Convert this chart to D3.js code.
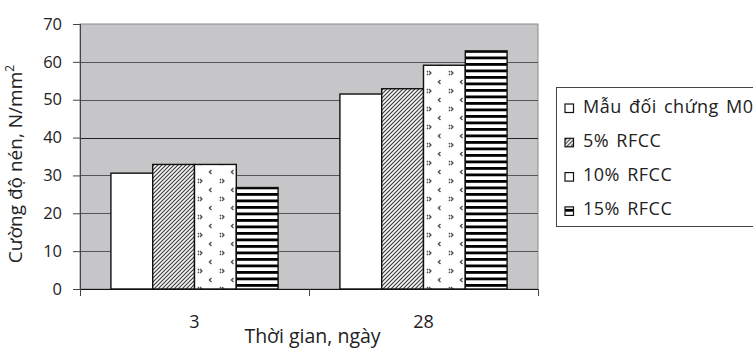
<!DOCTYPE html>
<html>
<head>
<meta charset="utf-8">
<script src="https://cdn.jsdelivr.net/npm/d3@7"></script>
<style>
  html, body { margin: 0; padding: 0; background: #fff; overflow: hidden; }
  svg { display: block; font-family: "Open Sans", "Noto Sans", sans-serif; }
</style>
</head>
<body>
<svg id="chart" width="753" height="349"></svg>
<script>
// Compressive strength by curing age and RFCC replacement level
const categories = ["3", "28"];
const seriesNames = ["Mẫu đối chứng M0", "5% RFCC", "10% RFCC", "15% RFCC"];
const seriesPatterns = ["solid", "diag", "chevron", "hstripe"];
const valuesM0 = [30.6, 51.5];
const values5 = [32.9, 52.9];
const values10 = [32.9, 59.1];
const values15 = [26.8, 62.9];
const yTicks = [0, 10, 20, 30, 40, 50, 60, 70];

const seriesValues = [valuesM0, values5, values10, values15];

const svg = d3.select("#chart");
const margin = { left: 80, top: 24 };
const plotW = 538 - margin.left;
const plotH = 289 - margin.top;

// Fill patterns
const defs = svg.append("defs");
const pDiag = defs.append("pattern").attr("id", "p-diag")
  .attr("patternUnits", "userSpaceOnUse").attr("width", 4).attr("height", 4);
pDiag.append("rect").attr("width", 4).attr("height", 4).attr("fill", "#fff");
pDiag.append("path").attr("d", "M-1,1 L1,-1 M0,4 L4,0 M3,5 L5,3")
  .attr("stroke", "#333").attr("stroke-width", 1.15);

const pChev = defs.append("pattern").attr("id", "p-chevron")
  .attr("patternUnits", "userSpaceOnUse").attr("width", 22).attr("height", 18);
pChev.append("rect").attr("width", 22).attr("height", 18).attr("fill", "#fff");
pChev.append("path")
  .attr("d", "M12.5,2 L10.5,4 L12.5,6 M1,11 L3,13 L1,15 M21,11 L23,13 L21,15")
  .attr("fill", "none").attr("stroke", "#444").attr("stroke-width", 1.3);

const pStripe = defs.append("pattern").attr("id", "p-hstripe")
  .attr("patternUnits", "userSpaceOnUse").attr("width", 6).attr("height", 6.5);
pStripe.append("rect").attr("width", 6).attr("height", 6.5).attr("fill", "#fff");
pStripe.append("rect").attr("y", 0).attr("width", 6).attr("height", 2.8).attr("fill", "#000");

const fillFor = p => p === "solid" ? "#fff" : `url(#p-${p})`;

const g = svg.append("g").attr("transform", `translate(${margin.left},${margin.top})`);

const y = d3.scaleLinear().domain([0, 70]).range([plotH, 0]);
const x0 = d3.scaleBand().domain(categories).range([0, plotW]).paddingInner(0.27).paddingOuter(0.135);
const x1 = d3.scaleBand().domain(seriesNames).range([0, x0.bandwidth()]);

// Plot area
g.append("rect").attr("width", plotW).attr("height", plotH)
  .attr("fill", "#c6c6c8").attr("stroke", "#8a8a8a").attr("stroke-width", 1);

// Grid lines
g.append("g").selectAll("line").data(yTicks.filter(t => t > 0 && t < 70)).join("line")
  .attr("x1", 0).attr("x2", plotW)
  .attr("y1", d => Math.round(y(d)) + 0.5).attr("y2", d => Math.round(y(d)) + 0.5)
  .attr("stroke", d => d === 40 ? "#222" : "#555").attr("stroke-width", 1);

// Y axis
const yAxis = g.append("g")
  .call(d3.axisLeft(y).tickValues(yTicks).tickSize(7).tickPadding(11));
yAxis.select(".domain").attr("stroke", "#444").attr("d", `M0.5,${plotH + 6}V0`);
yAxis.selectAll(".tick line").attr("stroke", "#444");
yAxis.selectAll(".tick text").attr("font-size", 16.5).attr("fill", "#222")
  .attr("font-family", "Open Sans, sans-serif");

// Bars
const groups = g.append("g").selectAll("g").data(categories).join("g")
  .attr("transform", d => `translate(${x0(d)},0)`);
groups.selectAll("rect")
  .data((c, ci) => seriesNames.map((s, si) => ({ s, si, v: seriesValues[si][ci] })))
  .join("rect")
  .attr("x", d => x1(d.s))
  .attr("y", d => y(d.v))
  .attr("width", x1.bandwidth())
  .attr("height", d => plotH - y(d.v))
  .attr("fill", d => fillFor(seriesPatterns[d.si]))
  .attr("stroke", "#111").attr("stroke-width", 1.4);

// X axis
g.append("line").attr("x1", 0).attr("x2", plotW).attr("y1", plotH + 0.5).attr("y2", plotH + 0.5)
  .attr("stroke", "#111").attr("stroke-width", 1.2);
[0, plotW / 2, plotW].forEach(t => {
  g.append("line").attr("x1", t + 0.5).attr("x2", t + 0.5)
    .attr("y1", plotH).attr("y2", plotH + 7).attr("stroke", "#444");
});
g.selectAll(".xlab").data(categories).join("text").attr("class", "xlab")
  .attr("x", d => x0(d) + x0.bandwidth() / 2)
  .attr("y", plotH + 39)
  .attr("text-anchor", "middle").attr("font-size", 18).attr("fill", "#222")
  .text(d => d);

// Axis titles
svg.append("text")
  .attr("x", 312.5).attr("y", 343)
  .attr("text-anchor", "middle").attr("font-size", 19.5).attr("fill", "#222")
  .text("Thời gian, ngày");

const yt = svg.append("text")
  .attr("transform", "translate(22,164) rotate(-90)")
  .attr("text-anchor", "middle").attr("font-size", 19).attr("fill", "#222");
yt.append("tspan").text("Cường độ nén, N/mm");
yt.append("tspan").attr("dy", -8).attr("font-size", 12).text("2");

// Legend
const lg = svg.append("g").attr("transform", "translate(556,87)");
lg.append("rect").attr("x", 0.5).attr("y", 0.5).attr("width", 220).attr("height", 139)
  .attr("fill", "#fff").attr("stroke", "#444");
const items = lg.selectAll(".li").data(seriesNames).join("g").attr("class", "li")
  .attr("transform", (d, i) => `translate(9,${19 + i * 34.3})`);
items.append("rect").attr("x", 0).attr("y", -2).attr("width", 8.5).attr("height", 8.5)
  .attr("fill", (d, i) => fillFor(seriesPatterns[i]))
  .attr("stroke", "#111").attr("stroke-width", 1.2);
items.append("text").attr("x", 18).attr("y", 6.5).attr("font-size", 18).attr("fill", "#222")
  .attr("letter-spacing", 0.5).attr("word-spacing", 2)
  .text(d => d);
</script>
</body>
</html>
